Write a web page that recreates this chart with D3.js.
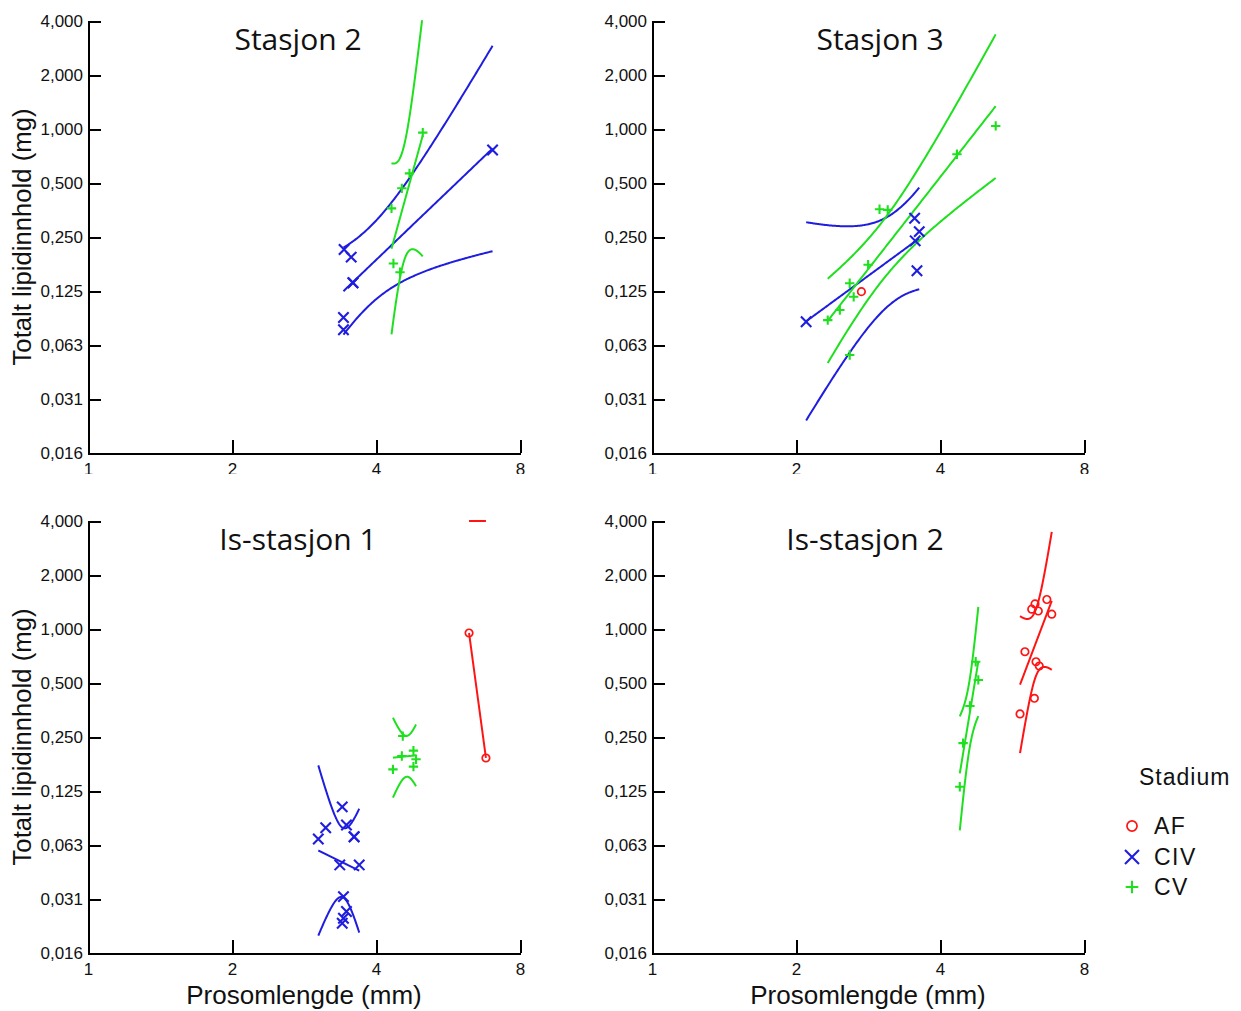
<!DOCTYPE html>
<html>
<head>
<meta charset="utf-8">
<script src="https://cdn.jsdelivr.net/npm/d3@7"></script>
<style>
  html, body { margin: 0; padding: 0; background: #fff; }
  svg { display: block; }
</style>
</head>
<body>
<svg id="chart" width="1241" height="1011"></svg>
<script>
// Total lipid content (mg) against prosome length (mm), by copepod stage,
// with log-log regression lines and simultaneous 95 % confidence bands.

const stages = ["AF", "CIV", "CV"];
const stageColors = ["#ff1414", "#1f1ddf", "#1fe01f"];
const panelTitles = ["Stasjon 2", "Stasjon 3", "Is-stasjon 1", "Is-stasjon 2"];

const xTicks = [1, 2, 4, 8];
const xTickLabels = ["1", "2", "4", "8"];
const yTicks = [0.015625, 0.03125, 0.0625, 0.125, 0.25, 0.5, 1, 2, 4];
const yTickLabels = ["0,016", "0,031", "0,063", "0,125", "0,250", "0,500", "1,000", "2,000", "4,000"];

// Stasjon 2
const st2CIVLen   = [3.43, 3.55, 3.58, 3.58, 3.42, 3.42, 7.01];
const st2CIVLipid = [0.213, 0.193, 0.139, 0.139, 0.089, 0.076, 0.764];
const st2CVLen    = [5.01, 4.70, 4.53, 4.31, 4.35, 4.49];
const st2CVLipid  = [0.954, 0.566, 0.467, 0.361, 0.178, 0.159];

// Stasjon 3
const st3AFLen    = [2.74];
const st3AFLipid  = [0.124];
const st3CIVLen   = [2.10, 3.54, 3.62, 3.55, 3.58];
const st3CIVLipid = [0.0843, 0.318, 0.268, 0.238, 0.162];
const st3CVLen    = [5.23, 4.34, 2.99, 3.11, 2.83, 2.59, 2.64, 2.47, 2.33, 2.59];
const st3CVLipid  = [1.04, 0.723, 0.357, 0.354, 0.175, 0.138, 0.116, 0.098, 0.086, 0.055];

// Is-stasjon 1
const is1AFLen    = [6.26, 6.79];
const is1AFLipid  = [0.950, 0.191];
const is1CIVLen   = [3.40, 3.14, 3.03, 3.47, 3.60, 3.60, 3.36, 3.69, 3.42, 3.47, 3.42, 3.40];
const is1CIVLipid = [0.102, 0.078, 0.0675, 0.0808, 0.0695, 0.0695, 0.0484, 0.0484, 0.0322, 0.0266, 0.0244, 0.0229];
const is1CVLen    = [4.55, 4.53, 4.79, 4.85, 4.79, 4.34];
const is1CVLipid  = [0.253, 0.196, 0.210, 0.188, 0.171, 0.165];

// Is-stasjon 2
const is2AFLen    = [6.69, 6.32, 6.22, 6.42, 6.85, 6.02, 6.35, 6.45, 6.30, 5.88];
const is2AFLipid  = [1.46, 1.38, 1.29, 1.26, 1.21, 0.747, 0.657, 0.622, 0.411, 0.336];
const is2CVLen    = [4.75, 4.81, 4.62, 4.47, 4.40];
const is2CVLipid  = [0.657, 0.520, 0.372, 0.231, 0.132];

// one entry per stage (AF, CIV, CV): [lengths, lipids] or null
const panelData = [
  [null, [st2CIVLen, st2CIVLipid], [st2CVLen, st2CVLipid]],
  [[st3AFLen, st3AFLipid], [st3CIVLen, st3CIVLipid], [st3CVLen, st3CVLipid]],
  [[is1AFLen, is1AFLipid], [is1CIVLen, is1CIVLipid], [is1CVLen, is1CVLipid]],
  [[is2AFLen, is2AFLipid], null, [is2CVLen, is2CVLipid]]
];

// ---- layout ----
const plotW = 432, plotH = 432;
const origins = [[88, 21], [652, 21], [88, 521], [652, 521]];
const titlePos = [[298, 50], [880, 50], [298, 550], [865, 550]];
const TEXT_FONT = "'Liberation Sans', Arial, sans-serif";

const svg = d3.select("#chart");
const defs = svg.append("defs");
defs.append("clipPath").attr("id", "topRow")
  .append("rect").attr("x", 0).attr("y", 0).attr("width", 1241).attr("height", 474);
defs.append("clipPath").attr("id", "plotArea")
  .append("rect").attr("x", 0).attr("y", -2).attr("width", plotW).attr("height", plotH + 1);

const topRow = svg.append("g").attr("clip-path", "url(#topRow)");
const bottomRow = svg.append("g");

// Least squares fit in log2-log2 space with a Working-Hotelling band
function regression(xs, ys, yDomain) {
  const n = xs.length;
  const u = xs.map(Math.log2), v = ys.map(Math.log2);
  const mu = d3.mean(u), mv = d3.mean(v);
  let sxx = 0, sxy = 0;
  for (let i = 0; i < n; i++) {
    sxx += (u[i] - mu) * (u[i] - mu);
    sxy += (u[i] - mu) * (v[i] - mv);
  }
  const slope = sxy / sxx, icpt = mv - slope * mu;
  const df = n - 2;
  let k = Infinity, s = 0;
  if (df > 0) {
    let sse = 0;
    for (let i = 0; i < n; i++) {
      const r = v[i] - (icpt + slope * u[i]);
      sse += r * r;
    }
    s = Math.sqrt(sse / df);
    // sqrt(2 * F(0.95; 2, df)), closed form for two numerator degrees of freedom
    k = Math.sqrt(df * (Math.pow(0.05, -2 / df) - 1));
  }
  const u0 = d3.min(u), u1 = d3.max(u);
  const steps = 120;
  const lo = yDomain[0], hi = yDomain[1];
  const clampY = val => Math.max(lo, Math.min(hi, val));
  const fit = [], upper = [], lower = [];
  for (let i = 0; i <= steps; i++) {
    const t = u0 + (u1 - u0) * i / steps;
    const c = icpt + slope * t;
    const w = df > 0 ? k * s * Math.sqrt(1 / n + (t - mu) * (t - mu) / sxx) : Infinity;
    const xv = Math.pow(2, t);
    fit.push([xv, clampY(Math.pow(2, c))]);
    upper.push([xv, clampY(Math.pow(2, c + w))]);
    lower.push([xv, clampY(Math.pow(2, c - w))]);
  }
  return [lower, fit, upper];
}

const markerPaths = {
  CIV: r => `M${-r},${-r}L${r},${r}M${-r},${r}L${r},${-r}`,
  CV: r => `M${-r},0H${r}M0,${-r}V${r}`
};

function drawMarker(g, stage, color, size) {
  if (stage === "AF") {
    g.append("circle").attr("r", size * 0.72)
      .attr("fill", "none").attr("stroke", color).attr("stroke-width", 1.7);
  } else {
    g.append("path").attr("d", markerPaths[stage](stage === "CIV" ? size : size * 0.9))
      .attr("fill", "none").attr("stroke", color).attr("stroke-width", 2.1);
  }
}

panelData.forEach((groups, p) => {
  const [ox, oy] = origins[p];
  const parent = p < 2 ? topRow : bottomRow;
  const panel = parent.append("g").attr("transform", `translate(${ox},${oy})`);

  const x = d3.scaleLog().base(2).domain([1, 8]).range([0, plotW]);
  const y = d3.scaleLog().base(2).domain([0.015625, 4]).range([plotH, 0]);

  const plot = panel.append("g").attr("clip-path", "url(#plotArea)");
  const line = d3.line().x(d => x(d[0])).y(d => y(d[1]));

  // regression lines and bands
  groups.forEach((grp, si) => {
    if (!grp || grp[0].length < 2) return;
    const curves = regression(grp[0], grp[1], y.domain());
    curves.forEach(c => {
      plot.append("path").attr("d", line(c))
        .attr("fill", "none").attr("stroke", stageColors[si])
        .attr("stroke-width", 2).attr("stroke-linejoin", "round");
    });
  });

  // observations
  groups.forEach((grp, si) => {
    if (!grp) return;
    grp[0].forEach((len, i) => {
      const g = plot.append("g")
        .attr("transform", `translate(${x(len)},${y(grp[1][i])})`);
      drawMarker(g, stages[si], stageColors[si], 5.2);
    });
  });

  // axes
  const xAxis = d3.axisBottom(x).tickValues(xTicks)
    .tickFormat((d, i) => xTickLabels[i])
    .tickSize(-13).tickSizeOuter(0).tickPadding(10);
  const yAxis = d3.axisLeft(y).tickValues(yTicks)
    .tickFormat((d, i) => yTickLabels[i])
    .tickSize(-13).tickSizeOuter(0).tickPadding(5);

  const gx = panel.append("g").attr("transform", `translate(0,${plotH})`).call(xAxis);
  const gy = panel.append("g").call(yAxis);
  [gx, gy].forEach(ax => {
    ax.select(".domain").attr("stroke", "#000").attr("stroke-width", 2)
      .attr("shape-rendering", "crispEdges");
    ax.selectAll(".tick line").attr("stroke", "#000").attr("stroke-width", 2)
      .attr("shape-rendering", "crispEdges");
    ax.selectAll(".tick text").attr("fill", "#111")
      .style("font-family", TEXT_FONT).style("font-size", "17px");
  });

  // panel title
  parent.append("text")
    .attr("x", titlePos[p][0]).attr("y", titlePos[p][1])
    .attr("text-anchor", "middle")
    .style("font-family", "'Open Sans', 'Noto Sans', sans-serif")
    .style("font-size", "30px").attr("fill", "#111")
    .text(panelTitles[p]);

  // axis titles
  if (p % 2 === 0) {
    parent.append("text")
      .attr("transform", `translate(31,${oy + plotH / 2}) rotate(-90)`)
      .attr("text-anchor", "middle")
      .style("font-family", TEXT_FONT).style("font-size", "25.7px").attr("fill", "#111")
      .text("Totalt lipidinnhold (mg)");
  }
  if (p >= 2) {
    parent.append("text")
      .attr("x", ox + plotW / 2).attr("y", 1004)
      .attr("text-anchor", "middle")
      .style("font-family", TEXT_FONT).style("font-size", "26px").attr("fill", "#111")
      .text("Prosomlengde (mm)");
  }
});

// legend
const legend = svg.append("g").attr("transform", "translate(1132,0)");
legend.append("text").attr("x", 7).attr("y", 785)
  .style("font-family", TEXT_FONT).style("font-size", "23px")
  .style("letter-spacing", "1px").attr("fill", "#111")
  .text("Stadium");
const legendY = [826, 857, 887];
stages.forEach((st, i) => {
  const g = legend.append("g").attr("transform", `translate(0,${legendY[i]})`);
  drawMarker(g, st, stageColors[i], 7);
  g.append("text").attr("x", 22).attr("dy", "0.36em")
    .style("font-family", TEXT_FONT).style("font-size", "23px")
    .style("letter-spacing", "1.5px").attr("fill", "#111")
    .text(st);
});
</script>
</body>
</html>
